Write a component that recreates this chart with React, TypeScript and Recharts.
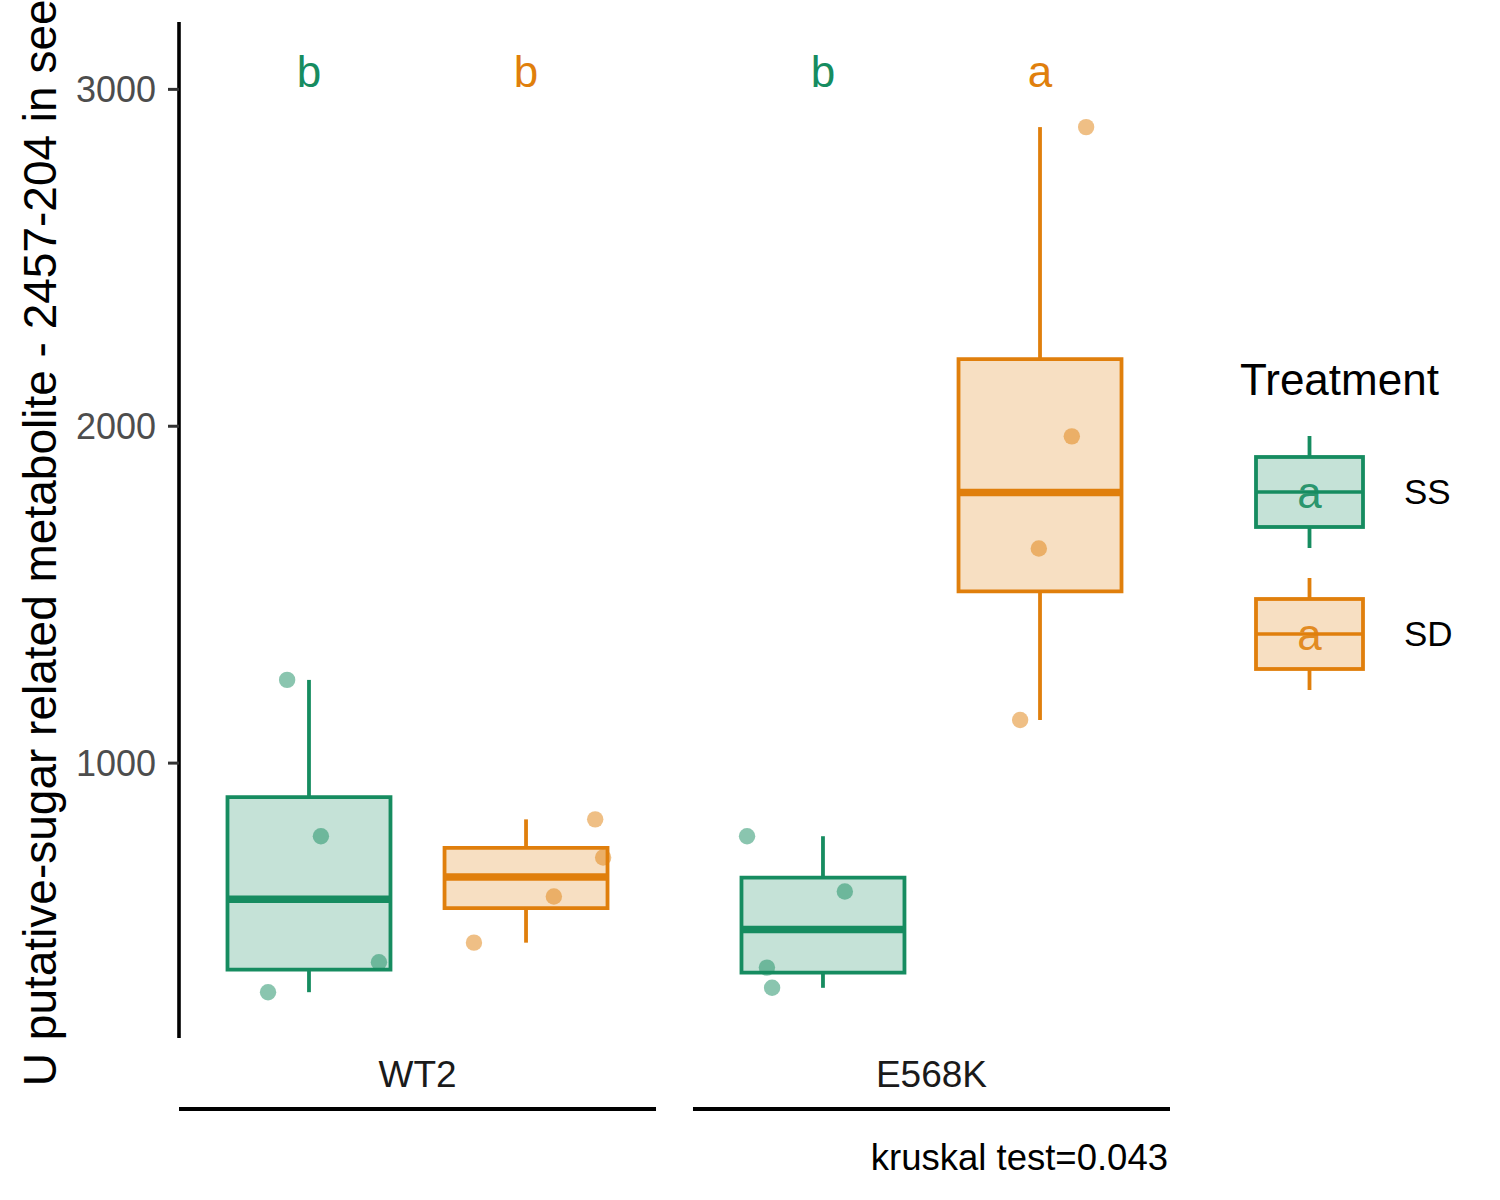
import { ComposedChart, ReferenceArea, ReferenceLine, Scatter, XAxis, YAxis } from "recharts";

const FONT = "'Liberation Sans', Arial, Helvetica, sans-serif";

// categories
const genotypes = ["WT2", "E568K"];
const treatments = ["SS", "SD"];
const treatmentColors = ["#168C60", "#E07F0C"];

// measured values per genotype x treatment
const wt2SS = [1247, 783, 409, 320];
const wt2SD = [833, 720, 604, 467];
const e568kSS = [783, 619, 393, 333];
const e568kSD = [2888, 1970, 1637, 1128];

// horizontal jitter of the points (x units)
const wt2SSJitter = [-0.055, 0.03, 0.176, -0.103];
const wt2SDJitter = [0.174, 0.194, 0.07, -0.131];
const e568kSSJitter = [-0.191, 0.055, -0.141, -0.128];
const e568kSDJitter = [0.116, 0.08, -0.003, -0.05];

// significance letters, same order as groups below
const groupLetters = ["b", "b", "b", "a"];
const letterY = 3050;

const yTicks = [1000, 2000, 3000];
const yDomain = [184, 3200];
const yLabel = "U putative-sugar related metabolite - 2457-204 in seed";
const testLabel = "kruskal test=0.043";
const legendTitle = "Treatment";
const legendKeyLetter = "a";

// layout
const PANEL = 1.2;
const GAP = 0.093;
const DODGE = 0.273;
const HALF = 0.205;
const XMAX = 2 * PANEL + GAP;
const PLOT_LEFT = 179;
const PLOT_RIGHT = 1170;
const PLOT_TOP = 22;
const PLOT_BOTTOM = 1038;
const PX_PER_UNIT = (PLOT_RIGHT - PLOT_LEFT) / XMAX;
const BOX_STROKE = 3.8;

const panelCenter = (g: number) => g * (PANEL + GAP) + PANEL / 2;
const boxCenter = (g: number, t: number) => panelCenter(g) + (t === 0 ? -DODGE : DODGE);

const groups = [
  { g: 0, t: 0, values: wt2SS, jitter: wt2SSJitter },
  { g: 0, t: 1, values: wt2SD, jitter: wt2SDJitter },
  { g: 1, t: 0, values: e568kSS, jitter: e568kSSJitter },
  { g: 1, t: 1, values: e568kSD, jitter: e568kSDJitter },
];

function quantile(values: number[], p: number) {
  const s = [...values].sort((a, b) => a - b);
  const h = (s.length - 1) * p;
  const lo = Math.floor(h);
  const hi = Math.min(lo + 1, s.length - 1);
  return s[lo] + (h - lo) * (s[hi] - s[lo]);
}

const boxes = groups.map((gr, i) => {
  const q1 = quantile(gr.values, 0.25);
  const q3 = quantile(gr.values, 0.75);
  const iqr = q3 - q1;
  const inside = gr.values.filter((v) => v >= q1 - 1.5 * iqr && v <= q3 + 1.5 * iqr);
  return {
    key: i,
    c: boxCenter(gr.g, gr.t),
    color: treatmentColors[gr.t],
    q1,
    q3,
    med: quantile(gr.values, 0.5),
    lo: Math.min(...inside),
    hi: Math.max(...inside),
  };
});

const pointsByTreatment = treatments.map((_, t) =>
  groups
    .filter((gr) => gr.t === t)
    .flatMap((gr) => gr.values.map((v, i) => ({ x: boxCenter(gr.g, gr.t) + gr.jitter[i], y: v })))
);

const letterData = groups.map((gr, i) => ({
  x: boxCenter(gr.g, gr.t),
  y: letterY,
  letter: groupLetters[i],
  color: treatmentColors[gr.t],
}));

const panelCenterTicks = genotypes.map((_, g) => panelCenter(g));

function StripTick(props: any) {
  const { x, y, payload } = props;
  const idx = panelCenterTicks.indexOf(payload.value);
  const half = (PANEL / 2) * PX_PER_UNIT;
  return (
    <g>
      <text x={x} y={y + 49} textAnchor="middle" fontSize={37} fill="#1a1a1a" fontFamily={FONT}>
        {genotypes[idx]}
      </text>
      <line x1={x - half} x2={x + half} y1={y + 71} y2={y + 71} stroke="#000" strokeWidth={3.8} />
    </g>
  );
}

function Legend() {
  return (
    <g fontFamily={FONT}>
      <text x={1240} y={395} fontSize={44} fill="#000">
        {legendTitle}
      </text>
      {treatments.map((name, t) => {
        const top = 457 + t * 142;
        const cx = 1309.5;
        const color = treatmentColors[t];
        return (
          <g key={name}>
            <line x1={cx} x2={cx} y1={top - 21} y2={top} stroke={color} strokeWidth={BOX_STROKE} />
            <line x1={cx} x2={cx} y1={top + 70} y2={top + 91} stroke={color} strokeWidth={BOX_STROKE} />
            <rect x={1256} y={top} width={107} height={70} fill={color} fillOpacity={0.25} stroke={color} strokeWidth={BOX_STROKE} />
            <line x1={1256} x2={1363} y1={top + 35} y2={top + 35} stroke={color} strokeWidth={3.5} />
            <text x={cx} y={top + 51} textAnchor="middle" fontSize={44} fill={color} fillOpacity={0.9}>
              {legendKeyLetter}
            </text>
            <text x={1404} y={top + 47} fontSize={35} fill="#000">
              {name}
            </text>
          </g>
        );
      })}
    </g>
  );
}

export default function App() {
  return (
    <div style={{ position: "absolute", left: 0, top: 0, width: 1500, height: 1200, background: "#fff" }}>
      <ComposedChart
        width={1500}
        height={1200}
        margin={{ top: PLOT_TOP, right: 1500 - PLOT_RIGHT, bottom: 1200 - PLOT_BOTTOM - 100, left: PLOT_LEFT - 100 }}
      >
        <XAxis
          type="number"
          dataKey="x"
          domain={[0, XMAX]}
          allowDataOverflow
          ticks={panelCenterTicks}
          interval={0}
          axisLine={false}
          tickLine={false}
          tickSize={0}
          tickMargin={0}
          height={100}
          tick={<StripTick />}
        />
        <YAxis
          type="number"
          dataKey="y"
          domain={yDomain}
          allowDataOverflow
          ticks={yTicks}
          width={100}
          axisLine={{ stroke: "#000", strokeWidth: 3.6 }}
          tickLine={{ stroke: "#333", strokeWidth: 3 }}
          tickSize={11}
          tickMargin={12}
          tick={{ fill: "#4d4d4d", fontSize: 36, fontFamily: FONT }}
        />
        {boxes.map((b) => (
          <ReferenceArea
            key={`box-${b.key}`}
            x1={b.c - HALF}
            x2={b.c + HALF}
            y1={b.q1}
            y2={b.q3}
            fill={b.color}
            fillOpacity={0.25}
            stroke={b.color}
            strokeWidth={BOX_STROKE}
          />
        ))}
        {boxes.map((b) => (
          <ReferenceLine
            key={`wu-${b.key}`}
            segment={[{ x: b.c, y: b.q3 }, { x: b.c, y: b.hi }]}
            stroke={b.color}
            strokeWidth={BOX_STROKE}
          />
        ))}
        {boxes.map((b) => (
          <ReferenceLine
            key={`wl-${b.key}`}
            segment={[{ x: b.c, y: b.lo }, { x: b.c, y: b.q1 }]}
            stroke={b.color}
            strokeWidth={BOX_STROKE}
          />
        ))}
        {boxes.map((b) => (
          <ReferenceLine
            key={`md-${b.key}`}
            segment={[{ x: b.c - HALF, y: b.med }, { x: b.c + HALF, y: b.med }]}
            stroke={b.color}
            strokeWidth={7.6}
          />
        ))}
        {treatments.map((name, t) => (
          <Scatter
            key={name}
            name={name}
            data={pointsByTreatment[t]}
            isAnimationActive={false}
            shape={(p: any) => <circle cx={p.cx} cy={p.cy} r={8.2} fill={treatmentColors[t]} fillOpacity={0.5} />}
          />
        ))}
        <Scatter
          name="letters"
          data={letterData}
          isAnimationActive={false}
          legendType="none"
          shape={(p: any) => (
            <text x={p.cx} y={p.cy + 14} textAnchor="middle" fontSize={44} fill={p.payload.color} fontFamily={FONT}>
              {p.payload.letter}
            </text>
          )}
        />
      </ComposedChart>
      <svg
        width={1500}
        height={1200}
        style={{ position: "absolute", left: 0, top: 0, pointerEvents: "none" }}
      >
        <text
          transform={`translate(56, ${(PLOT_TOP + PLOT_BOTTOM) / 2}) rotate(-90)`}
          textAnchor="middle"
          fontSize={46}
          fill="#000"
          fontFamily={FONT}
        >
          {yLabel}
        </text>
        <text x={1168} y={1170} textAnchor="end" fontSize={36.5} fill="#000" fontFamily={FONT}>
          {testLabel}
        </text>
        <Legend />
      </svg>
    </div>
  );
}
